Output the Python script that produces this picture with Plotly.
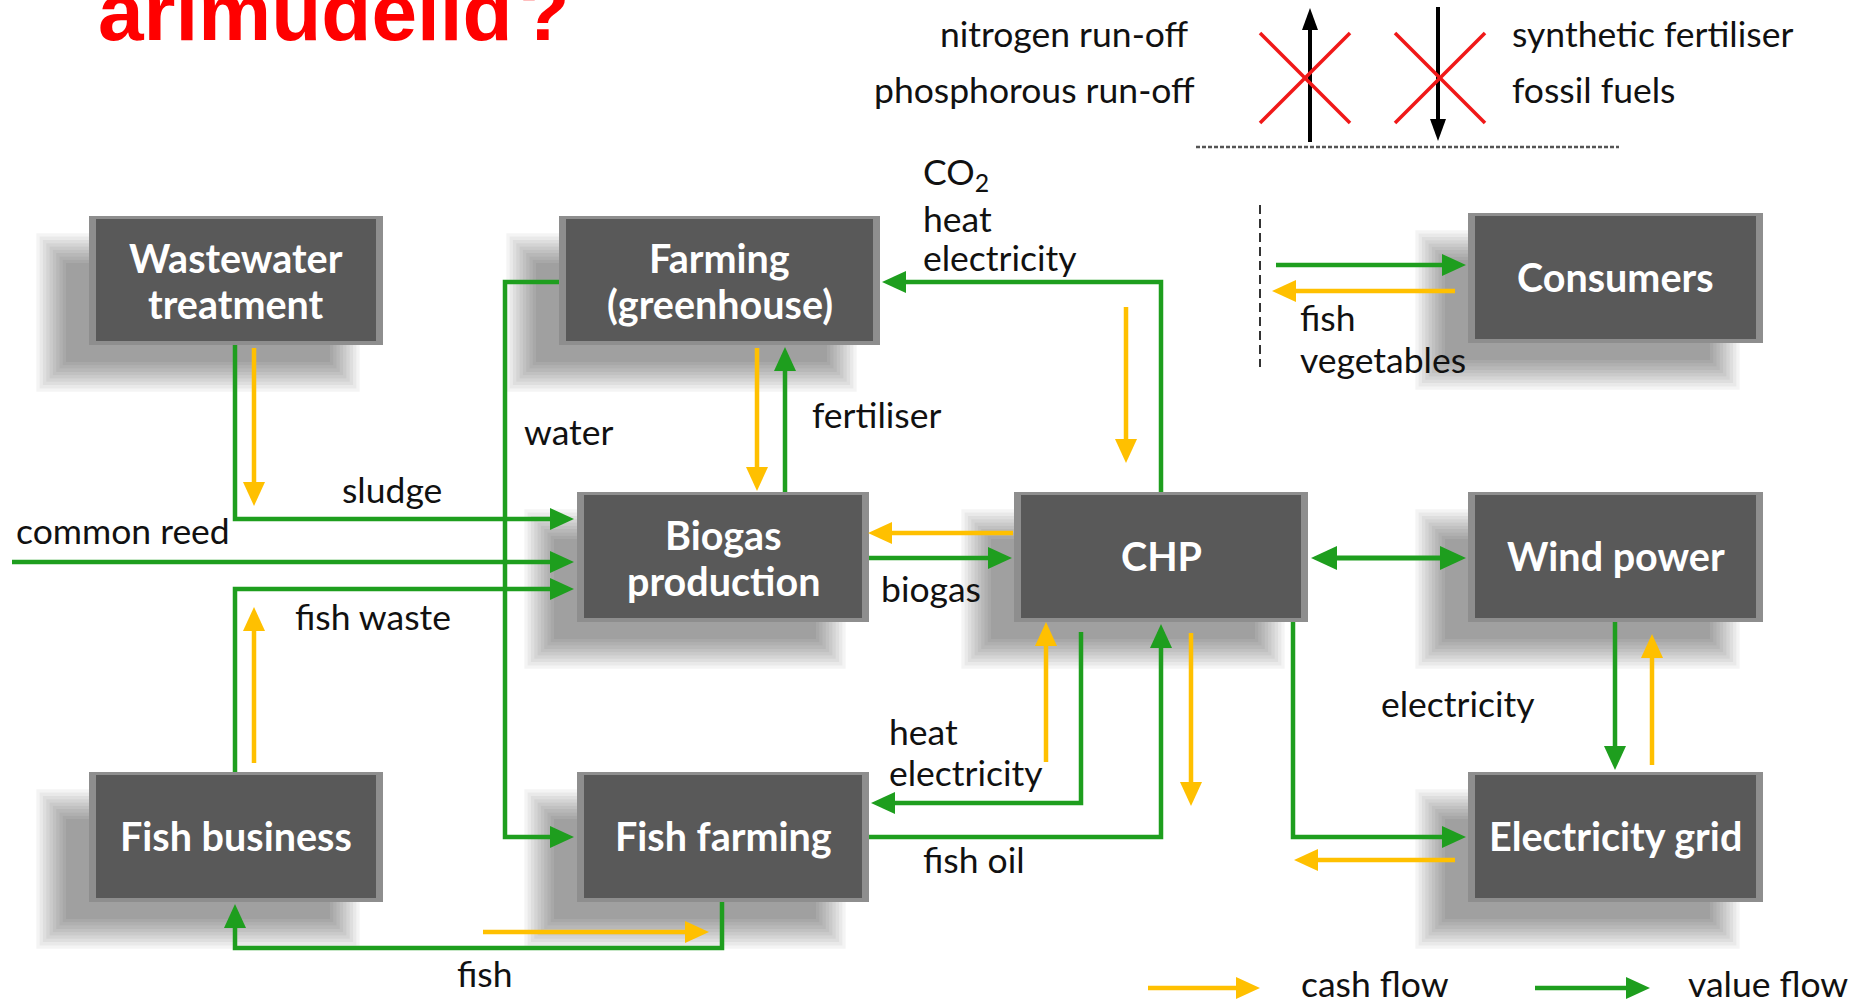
import plotly.graph_objects as go

W, H = 1864, 1006

TITLE = "arimudelid\u200a?"

# ---- nodes (diagram boxes) ----
node_names = ["Wastewater<br>treatment", "Farming<br>(greenhouse)", "Consumers",
              "Biogas<br>production", "CHP", "Wind power",
              "Fish business", "Fish farming", "Electricity grid"]
node_left = [89, 559, 1468, 577, 1014, 1468, 89, 577, 1468]
node_right = [383, 880, 1763, 869, 1308, 1763, 383, 869, 1763]
node_top = [216, 216, 213, 492, 492, 492, 772, 772, 772]
node_bottom = [345, 345, 343, 622, 622, 622, 902, 902, 902]

# ---- value flows (green) : polyline vertices, last vertex = arrow tip ----
value_flows = [
    [(235, 345), (235, 519), (574, 519)],              # sludge
    [(12, 562), (574, 562)],                            # common reed
    [(235, 772), (235, 589), (574, 589)],               # fish waste
    [(559, 282), (505, 282), (505, 837), (574, 837)],   # water
    [(785, 492), (785, 347)],                           # fertiliser
    [(869, 558), (1012, 558)],                          # biogas
    [(1161, 492), (1161, 282), (882, 282)],             # CO2 heat electricity
    [(1276, 265), (1466, 265)],                         # to consumers
    [(1081, 632), (1081, 803), (871, 803)],             # heat electricity
    [(869, 837), (1161, 837), (1161, 624)],             # fish oil
    [(1293, 622), (1293, 837), (1466, 837)],            # electricity to grid
    [(1615, 622), (1615, 770)],                         # wind -> grid
    [(722, 902), (722, 948), (235, 948), (235, 904)],   # fish
    [(1535, 988), (1650, 988)],                         # legend
]
double_flows = [[(1311, 558), (1466, 558)]]             # CHP <-> wind power

# ---- cash flows (yellow) ----
cash_flows = [
    [(254, 348), (254, 506)],
    [(254, 763), (254, 607)],
    [(757, 348), (757, 491)],
    [(1126, 307), (1126, 463)],
    [(1455, 291), (1272, 291)],
    [(1013, 533), (868, 533)],
    [(1046, 762), (1046, 622)],
    [(1191, 633), (1191, 806)],
    [(1455, 860), (1294, 860)],
    [(1652, 765), (1652, 634)],
    [(483, 932), (709, 932)],
    [(1148, 988), (1260, 988)],                         # legend
]

# ---- removed flows (black arrows crossed out) ----
removed_flows = [[(1310, 142), (1310, 8)], [(1438, 7), (1438, 141)]]
cross_centers_x = [1305, 1440]

# ---- text labels ----
label_text = ["nitrogen run-off", "phosphorous run-off", "synthetic fertiliser", "fossil fuels",
              "CO<sub>2</sub>", "heat", "electricity", "fish", "vegetables",
              "water", "fertiliser", "sludge", "common reed", "biogas", "fish waste",
              "electricity", "heat", "electricity", "fish oil", "fish",
              "cash flow", "value flow"]
label_x = [1191, 1197, 1510, 1510, 921, 921, 921, 1298, 1298,
           522, 810, 340, 14, 879, 293, 1379, 887, 887, 921, 455, 1299, 1686]
label_y = [38, 94, 38, 94, 178, 223, 262, 322, 364,
           436, 419, 494, 535, 593, 621, 708, 736, 777, 864, 978, 988, 988]
label_align = ["right", "right"] + ["left"] * 20

GREEN = "#1E9E1E"
YELLOW = "#FFC000"
BOX = "#595959"
BEVEL = "#8E8E8E"

fig = go.Figure()
shapes = []

# shadows
for x0, x1, y0, y1 in zip(node_left, node_right, node_top, node_bottom):
    for k in range(10):
        g = -15 + 3.3 * k
        shapes.append(dict(type="rect", xref="x", yref="y", layer="below",
                           x0=x0 - 38 - g, x1=x1 - 38 + g, y0=y0 + 32 - g, y1=y1 + 32 + g,
                           line=dict(width=0), fillcolor="rgba(0,0,0,0.045)"))
# boxes
for x0, x1, y0, y1 in zip(node_left, node_right, node_top, node_bottom):
    shapes.append(dict(type="rect", xref="x", yref="y", layer="below",
                       x0=x0, x1=x1, y0=y0, y1=y1, line=dict(width=0), fillcolor=BEVEL))
    shapes.append(dict(type="rect", xref="x", yref="y", layer="below",
                       x0=x0 + 7, x1=x1 - 7, y0=y0 + 3, y1=y1 - 4,
                       line=dict(width=0), fillcolor=BOX))


def head_path(tip, prev, L, Wd):
    dx, dy = tip[0] - prev[0], tip[1] - prev[1]
    n = (dx * dx + dy * dy) ** 0.5
    ux, uy = dx / n, dy / n
    px, py = -uy, ux
    bx, by = tip[0] - L * ux, tip[1] - L * uy
    return (f"M {tip[0]},{tip[1]} L {bx + Wd * px},{by + Wd * py} "
            f"L {bx - Wd * px},{by - Wd * py} Z")


def shorten(p, q, d):
    dx, dy = q[0] - p[0], q[1] - p[1]
    n = (dx * dx + dy * dy) ** 0.5
    return (q[0] - d * dx / n, q[1] - d * dy / n)


def add_flows(flows, color, width, L, Wd, both=False):
    xs, ys = [], []
    for pts in flows:
        pts = list(pts)
        tip = pts[-1]
        pts[-1] = shorten(pts[-2], tip, L * 0.6)
        shapes.append(dict(type="path", xref="x", yref="y", path=head_path(tip, pts[-2], L, Wd),
                           fillcolor=color, line=dict(width=0)))
        if both:
            start = pts[0]
            pts[0] = shorten(pts[1], start, L * 0.6)
            shapes.append(dict(type="path", xref="x", yref="y",
                               path=head_path(start, pts[1], L, Wd),
                               fillcolor=color, line=dict(width=0)))
        for x, y in pts:
            xs.append(x)
            ys.append(y)
        xs.append(None)
        ys.append(None)
    fig.add_trace(go.Scatter(x=xs, y=ys, mode="lines", hoverinfo="skip",
                             line=dict(color=color, width=width)))


add_flows(value_flows, GREEN, 4.5, 24, 11)
add_flows(double_flows, GREEN, 5, 26, 12, both=True)
add_flows(cash_flows, YELLOW, 4.5, 24, 11)
add_flows(removed_flows, "#000000", 4, 22, 8)

# red crosses
cx, cy = [], []
for c in cross_centers_x:
    cx += [c - 45, c + 45, None, c + 45, c - 45, None]
    cy += [33, 123, None, 33, 123, None]
fig.add_trace(go.Scatter(x=cx, y=cy, mode="lines", hoverinfo="skip",
                         line=dict(color="#F01818", width=3.5)))

# dashed separators
fig.add_trace(go.Scatter(x=[1196, 1619], y=[147, 147], mode="lines", hoverinfo="skip",
                         line=dict(color="#555555", width=2.5, dash="4px,2px")))
fig.add_trace(go.Scatter(x=[1260, 1260], y=[205, 367], mode="lines", hoverinfo="skip",
                         line=dict(color="#333333", width=2, dash="9px,5px")))

annotations = []
# title (top of the glyphs is cropped by the page edge, as in the reference)
annotations.append(dict(x=96, y=11, xref="x", yref="y", text=TITLE, showarrow=False,
                        xanchor="left", yanchor="middle",
                        font=dict(family="Liberation Sans", size=82, color="#FF0000",
                                  weight="bold")))

# box labels
for name, x0, x1, y0, y1 in zip(node_names, node_left, node_right, node_top, node_bottom):
    cxm = (x0 + x1) / 2
    cym = (y0 + y1) / 2
    lines = name.split("<br>")
    if len(lines) == 1:
        offs = [-2]
    else:
        offs = [-23, 23]
    for ln, o in zip(lines, offs):
        annotations.append(dict(x=cxm, y=cym + o, xref="x", yref="y", text=ln, showarrow=False,
                                xanchor="center", yanchor="middle",
                                font=dict(family="Lato", size=39.5, color="white",
                                          weight="bold")))

# flow labels
for t, x, y, a in zip(label_text, label_x, label_y, label_align):
    annotations.append(dict(x=x, y=y - 5, xref="x", yref="y", text=t, showarrow=False,
                            xanchor=a, yanchor="middle",
                            font=dict(family="Lato", size=35.5, color="#111111")))

fig.update_layout(
    width=W, height=H, margin=dict(l=0, r=0, t=0, b=0),
    paper_bgcolor="white", plot_bgcolor="white", showlegend=False,
    xaxis=dict(range=[0, W], visible=False, fixedrange=True),
    yaxis=dict(range=[H, 0], visible=False, fixedrange=True),
    shapes=shapes, annotations=annotations,
)

fig.write_html("out.html", config={"displayModeBar": False},
               post_script="document.body.style.margin='0';document.body.style.overflow='hidden';")
